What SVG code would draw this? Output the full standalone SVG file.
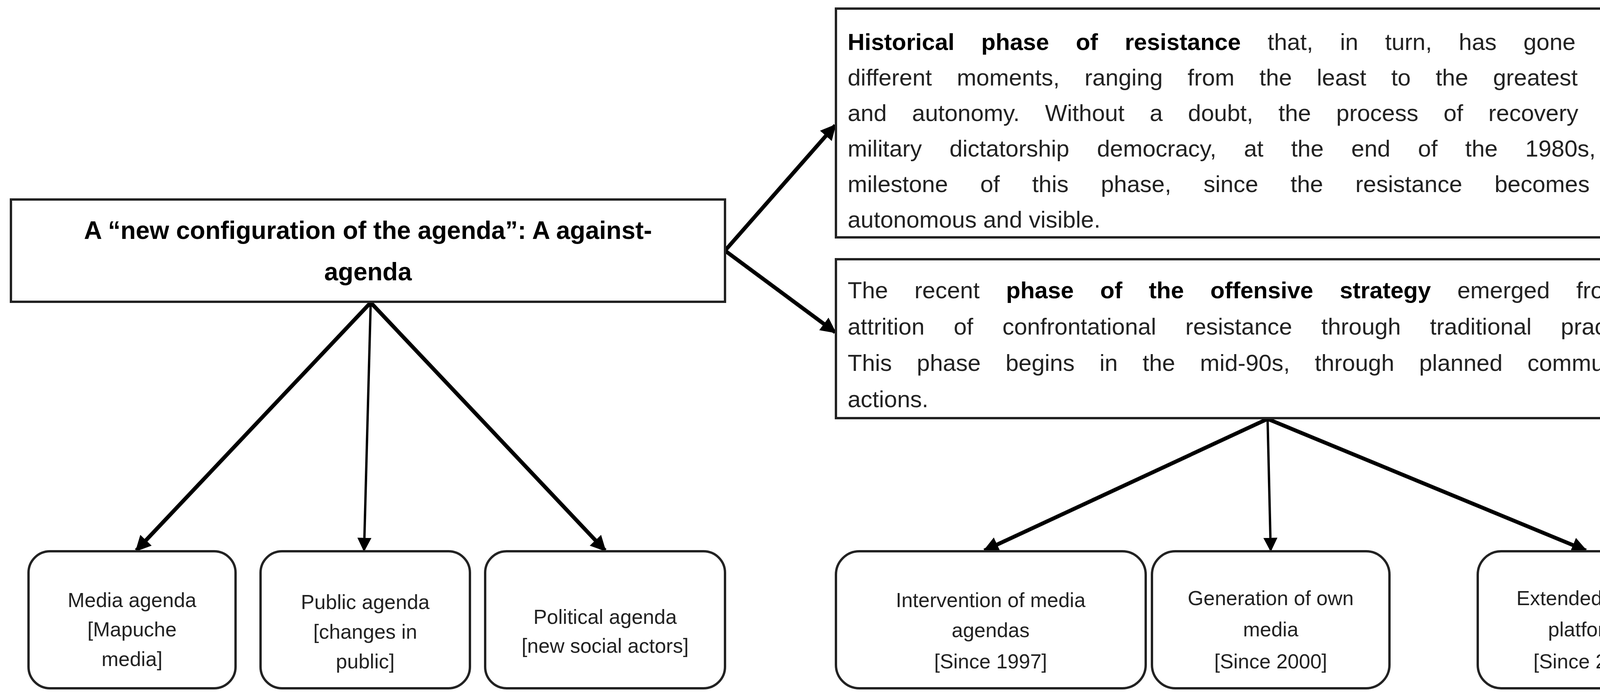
<svg xmlns="http://www.w3.org/2000/svg" width="4376" height="1793" viewBox="0 0 4376 1793">
<defs>
<marker id="ah" viewBox="0 0 10 10" refX="9" refY="5" markerWidth="4" markerHeight="4" orient="auto" markerUnits="strokeWidth"><path d="M0,0 L10,5 L0,10 z" fill="#000"/></marker>
<marker id="ah2" viewBox="0 0 10 10" refX="9" refY="5" markerWidth="6" markerHeight="6" orient="auto" markerUnits="strokeWidth"><path d="M0,0 L10,5 L0,10 z" fill="#000"/></marker>
</defs>
<style>
text{font-family:"Liberation Sans",Arial,sans-serif;fill:#222}
.box{fill:#fff;stroke:#222;stroke-width:6}
.p{font-size:60px}
.s{font-size:52px;text-anchor:middle}
.t{font-size:64px;font-weight:bold;text-anchor:middle;fill:#000}
.b{font-weight:bold;fill:#000}
.c{stroke:#000;stroke-width:10;fill:none}
.c2{stroke:#000;stroke-width:6;fill:none}
</style>
<rect width="4376" height="1793" fill="#fff"/>
<g id="connectors">
<line class="c" x1="949" y1="775" x2="349" y2="1410" marker-end="url(#ah)"/>
<line class="c2" x1="949" y1="775" x2="932" y2="1410" marker-end="url(#ah2)"/>
<line class="c" x1="949" y1="775" x2="1549" y2="1410" marker-end="url(#ah)"/>
<line class="c" x1="1856" y1="642" x2="2138" y2="321" marker-end="url(#ah)"/>
<line class="c" x1="1856" y1="642" x2="2138" y2="851" marker-end="url(#ah)"/>
<line class="c" x1="3245" y1="1073" x2="2520" y2="1410" marker-end="url(#ah)"/>
<line class="c2" x1="3245" y1="1073" x2="3253" y2="1410" marker-end="url(#ah2)"/>
<line class="c" x1="3245" y1="1073" x2="4060" y2="1410" marker-end="url(#ah)"/>
</g>
<g id="main">
<rect class="box" x="28" y="511" width="1828" height="262"/>
<text class="t" x="942" y="612">A “new configuration of the agenda”: A against-</text>
<text class="t" x="942" y="718">agenda</text>
</g>
<g id="historical">
<rect class="box" x="2140" y="22" width="2218" height="586"/>
<text class="p" x="2170" y="128" word-spacing="52"><tspan class="b">Historical phase of resistance</tspan> that, in turn, has gone through</text>
<text class="p" x="2170" y="219" word-spacing="47">different moments, ranging from the least to the greatest visibility</text>
<text class="p" x="2170" y="310" word-spacing="48">and autonomy. Without a doubt, the process of recovery of post-</text>
<text class="p" x="2170" y="401" word-spacing="54">military dictatorship democracy, at the end of the 1980s, is a</text>
<text class="p" x="2170" y="492" word-spacing="66">milestone of this phase, since the resistance becomes more</text>
<text class="p" x="2170" y="583">autonomous and visible.</text>
</g>
<g id="offensive">
<rect class="box" x="2140" y="664" width="2218" height="407"/>
<text class="p" x="2170" y="764" word-spacing="51">The recent <tspan class="b">phase of the offensive strategy</tspan> emerged from the</text>
<text class="p" x="2170" y="857" word-spacing="58">attrition of confrontational resistance through traditional practices.</text>
<text class="p" x="2170" y="950" word-spacing="47">This phase begins in the mid-90s, through planned communication</text>
<text class="p" x="2170" y="1043">actions.</text>
</g>
<g id="media">
<rect class="box" x="73" y="1412" width="530" height="351" rx="55"/>
<text class="s" x="338" y="1555">Media agenda</text>
<text class="s" x="338" y="1630">[Mapuche</text>
<text class="s" x="338" y="1706">media]</text>
</g>
<g id="public">
<rect class="box" x="667" y="1412" width="536" height="351" rx="55"/>
<text class="s" x="935" y="1560">Public agenda</text>
<text class="s" x="935" y="1636">[changes in</text>
<text class="s" x="935" y="1712">public]</text>
</g>
<g id="political">
<rect class="box" x="1242" y="1412" width="614" height="351" rx="55"/>
<text class="s" x="1549" y="1598">Political agenda</text>
<text class="s" x="1549" y="1672">[new social actors]</text>
</g>
<g id="intervention">
<rect class="box" x="2140" y="1412" width="793" height="351" rx="60"/>
<text class="s" x="2536" y="1555">Intervention of media</text>
<text class="s" x="2536" y="1632">agendas</text>
<text class="s" x="2536" y="1712">[Since 1997]</text>
</g>
<g id="generation">
<rect class="box" x="2949" y="1412" width="608" height="351" rx="60"/>
<text class="s" x="3253" y="1550">Generation of own</text>
<text class="s" x="3253" y="1630">media</text>
<text class="s" x="3253" y="1712">[Since 2000]</text>
</g>
<g id="extended">
<rect class="box" x="3783" y="1412" width="575" height="351" rx="60"/>
<text class="s" x="4070" y="1550">Extended use of</text>
<text class="s" x="4070" y="1630">platforms</text>
<text class="s" x="4070" y="1712">[Since 2012]</text>
</g>
</svg>
